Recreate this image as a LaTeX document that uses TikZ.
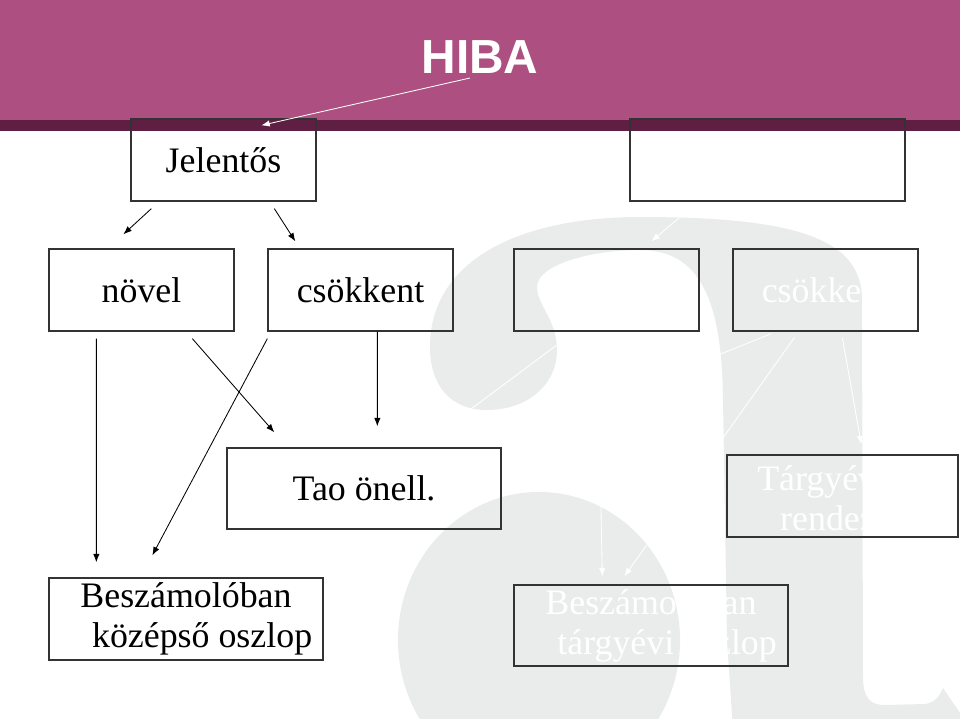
\documentclass[tikz,border=0pt]{standalone}
\usepackage{fontspec}
\setmainfont{Liberation Serif}
\newfontfamily\szoveg{Liberation Serif}
\newfontfamily\fejfont{Liberation Sans}
\usetikzlibrary{positioning,arrows.meta,calc}

\definecolor{hibalila}{HTML}{AD4F80}
\definecolor{hibasotet}{HTML}{5E1F42}
\definecolor{vizjel}{HTML}{EAEBEB}
\definecolor{keret}{HTML}{333333}

\tikzset{
  doboz/.style={draw=keret,line width=0.9pt,inner sep=0pt,minimum width=4.625cm,
    minimum height=2.05cm,font=\szoveg\fontsize{25.5pt}{28.5pt}\selectfont,align=center},
  szeles/.style={doboz,minimum width=6.85cm},
  nyil/.style={-{Latex[length=6pt,width=4.5pt]},line width=0.6pt},
  fehernyil/.style={nyil,white},
}

\begin{document}
\begin{tikzpicture}[x=0.025cm,y=-0.025cm]
  \useasboundingbox (0,0) rectangle (960,718);
  % fejlec es vizjel
  \begin{scope}
    \clip (0,0) rectangle (960,718);
    \fill[hibalila] (0,0) rectangle (960,120);
    \fill[hibasotet] (0,120) rectangle (960,131);
    % a nagy "a" betu: felso ives resz a szarral
    \fill[vizjel] (487,410) .. controls (450,410) and (430,385) .. (430,347)
      .. controls (430,260) and (520,217) .. (640,217)
      .. controls (800,217) and (862,240) .. (862,300)
      -- (863,680) .. controls (864,700) and (872,705) .. (885,705)
      -- (925,704) .. controls (935,703) and (940,695) .. (943,688)
      -- (975,735) -- (975,760) -- (735,760) -- (727,640) -- (723,400)
      .. controls (722,300) and (700,250) .. (640,250)
      .. controls (590,250) and (537,265) .. (537,287)
      .. controls (537,305) and (557,320) .. (557,350)
      .. controls (557,385) and (527,410) .. (487,410) -- cycle;
    % also hasa
    \fill[vizjel] (539,640) ellipse [x radius=3.525cm, y radius=3.7cm];
  \end{scope}
  \node[text=white,font=\fejfont\bfseries\fontsize{34pt}{36pt}\selectfont] (hiba) at (480,57) {HIBA};

  % dobozok
  \node[doboz] (jel) at (223.5,160) {Jelentős};
  \node[doboz,minimum width=6.875cm] (jobbfent) at (767.5,160) {};
  \node[doboz] (novel) at (141.5,290) {növel};
  \node[doboz] (csok) at (360.5,290) {csökkent};
  \node[doboz] (novel2) at (606.5,290) {};
  \node[doboz,text=white] (csok2) at (825.5,290) {csökkent};
  \node[szeles,minimum height=2.025cm] (tao) at (364,488.5) {Tao önell.};
  \node[doboz,minimum width=5.775cm] (targy) at (842.5,496) {};
  \node[text=white,anchor=west,align=left,inner sep=0pt,
    font=\szoveg\fontsize{25.5pt}{28.5pt}\selectfont] (targyszov) at (757,498) {Tárgyév\\\hspace*{0.64em}rendez};
  \node[szeles] (beszk) at (186,619) {Beszámolóban\\\hspace*{0.9em}középső oszlop};
  \node[szeles,minimum height=2.025cm,text=white] (beszt) at (651,625.5) {Beszámolóban\\\hspace*{0.9em}tárgyévi oszlop};

  % nyilak
  \draw[fehernyil] ($(hiba.center)+(-10,21)$) -- ($(jel.north west)+(131,7)$);
  \draw[nyil] ($(jel.south west)+(21,7)$) -- ($(novel.north west)+(75,-14)$);
  \draw[nyil] ($(jel.south west)+(144,7)$) -- ($(csok.north west)+(28,-7)$);
  \draw[nyil] ($(novel.south west)+(48,7)$) -- ($(beszk.north west)+(48,-15)$);
  \draw[nyil] ($(novel.south west)+(144,7)$) -- ($(tao.north west)+(48,-15)$);
  \draw[nyil] ($(csok.south west)+(0,7)$) -- ($(beszk.north west)+(104,-22)$);
  \draw[nyil] ($(csok.south west)+(110,0)$) -- ($(tao.north west)+(151,-21)$);
  \draw[fehernyil] ($(jobbfent.south west)+(50,16)$) -- ($(novel2.north west)+(138,-7)$);
  \draw[fehernyil] ($(novel2.south west)+(84,1)$) -- ($(beszt.north west)+(89,-8)$);
  \draw[fehernyil] ($(novel2.south west)+(60,1)$) -- ($(tao.north west)+(204,-8)$);
  \draw[fehernyil] ($(csok2.south west)+(39,2)$) -- ($(tao.north east)+(7,-8)$);
  \draw[fehernyil] ($(csok2.south west)+(62,6)$) -- ($(beszt.north west)+(111,-8)$);
  \draw[fehernyil] ($(csok2.south west)+(110,6)$) -- ($(targy.north west)+(135,-10)$);
\end{tikzpicture}
\end{document}
